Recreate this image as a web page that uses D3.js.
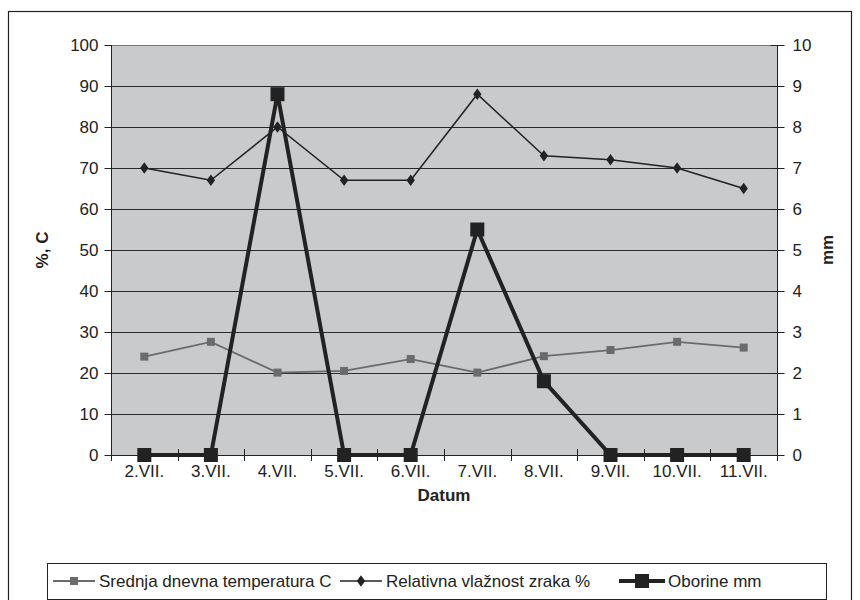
<!DOCTYPE html>
<html>
<head>
<meta charset="utf-8">
<script src="https://cdn.jsdelivr.net/npm/d3@7"></script>
<style>
  body { margin: 0; background: #fff; }
  svg text { font-family: "Liberation Sans", Arial, sans-serif; fill: #222; }
</style>
</head>
<body>
<svg id="chart" width="860" height="600"></svg>
<script>
const categories = ["2.VII.", "3.VII.", "4.VII.", "5.VII.", "6.VII.", "7.VII.", "8.VII.", "9.VII.", "10.VII.", "11.VII."];
const temperature = [24, 27.6, 20.1, 20.5, 23.4, 20.1, 24.1, 25.6, 27.6, 26.2];
const humidity = [70, 67, 80, 67, 67, 88, 73, 72, 70, 65];
const precipitation = [0, 0, 8.8, 0, 0, 5.5, 1.8, 0, 0, 0];
const leftTicks = [0, 10, 20, 30, 40, 50, 60, 70, 80, 90, 100];
const rightTicks = [0, 1, 2, 3, 4, 5, 6, 7, 8, 9, 10];
const seriesNames = ["Srednja dnevna temperatura C", "Relativna vlažnost zraka %", "Oborine mm"];

const svg = d3.select("#chart");
const plot = { left: 111, right: 777, top: 45, bottom: 455 };

// outer border
svg.append("rect").attr("x", 8.5).attr("y", 11.5).attr("width", 843).attr("height", 600)
  .attr("fill", "#fff").attr("stroke", "#222").attr("stroke-width", 1.2);

const x = d3.scaleBand().domain(categories).range([plot.left, plot.right]);
const yL = d3.scaleLinear().domain([0, 100]).range([plot.bottom, plot.top]);
const yR = d3.scaleLinear().domain([0, 10]).range([plot.bottom, plot.top]);
const cx = d => x(d) + x.bandwidth() / 2;

// plot background
svg.append("rect").attr("x", plot.left).attr("y", plot.top)
  .attr("width", plot.right - plot.left).attr("height", plot.bottom - plot.top)
  .attr("fill", "#c9cacc");

// gridlines
svg.append("g").selectAll("line").data(leftTicks.filter(t => t > 0)).join("line")
  .attr("x1", plot.left).attr("x2", plot.right)
  .attr("y1", d => yL(d) + 0.5).attr("y2", d => yL(d) + 0.5)
  .attr("stroke", d => d === 100 ? "#777" : "#2a2a2a").attr("stroke-width", 1);

// left axis
const axL = svg.append("g").attr("transform", `translate(${plot.left + 0.5},0)`)
  .call(d3.axisLeft(yL).tickValues(leftTicks).tickSize(7).tickPadding(6));
axL.select(".domain").attr("stroke", "#222").attr("d", `M0,${plot.top}V${plot.bottom}`);
axL.selectAll(".tick line").attr("stroke", "#222");
axL.selectAll("text").style("font-size", "17px").attr("fill", "#222");

// right axis
const axR = svg.append("g").attr("transform", `translate(${plot.right + 0.5},0)`)
  .call(d3.axisRight(yR).tickValues(rightTicks).tickSize(7).tickPadding(8));
axR.select(".domain").attr("stroke", "#222").attr("d", `M0,${plot.top}V${plot.bottom}`);
axR.selectAll(".tick line").attr("stroke", "#222").attr("x1", -7);
axR.selectAll("text").style("font-size", "17px").attr("fill", "#222");

// bottom axis
const axB = svg.append("g").attr("transform", `translate(0,${plot.bottom + 0.5})`)
  .call(d3.axisBottom(x).tickSize(0).tickPadding(9));
axB.select(".domain").attr("stroke", "#222").attr("d", `M${plot.left},0H${plot.right}`);
axB.selectAll("text").style("font-size", "17px").attr("fill", "#222");
// category boundary ticks
svg.append("g").selectAll("line").data(categories.concat(["__end"])).join("line")
  .attr("x1", (d, i) => Math.round(plot.left + i * x.step()) + 0.5)
  .attr("x2", (d, i) => Math.round(plot.left + i * x.step()) + 0.5)
  .attr("y1", plot.bottom - 6).attr("y2", plot.bottom + 6)
  .attr("stroke", "#222");

// axis titles
svg.append("text").attr("transform", `translate(48,250) rotate(-90)`)
  .attr("text-anchor", "middle").style("font-size", "17px").style("font-weight", "bold").text("%, C");
svg.append("text").attr("transform", `translate(833,250) rotate(-90)`)
  .attr("text-anchor", "middle").style("font-size", "17px").style("font-weight", "bold").text("mm");
svg.append("text").attr("x", (plot.left + plot.right) / 2).attr("y", 501)
  .attr("text-anchor", "middle").style("font-size", "17px").style("font-weight", "bold").text("Datum");

// series
const tempLine = d3.line().x((d, i) => cx(categories[i])).y(d => yL(d));
const precLine = d3.line().x((d, i) => cx(categories[i])).y(d => yR(d));

svg.append("path").datum(temperature).attr("d", tempLine)
  .attr("fill", "none").attr("stroke", "#6b6b6b").attr("stroke-width", 1.8);
svg.append("g").selectAll("rect").data(temperature).join("rect")
  .attr("x", (d, i) => cx(categories[i]) - 4).attr("y", d => yL(d) - 4)
  .attr("width", 8).attr("height", 8).attr("fill", "#6b6b6b");

svg.append("path").datum(humidity).attr("d", tempLine)
  .attr("fill", "none").attr("stroke", "#222").attr("stroke-width", 1.5);
const diamond = d3.symbol().type(d3.symbolDiamond2).size(70);
svg.append("g").selectAll("path").data(humidity).join("path")
  .attr("d", diamond)
  .attr("transform", (d, i) => `translate(${cx(categories[i])},${yL(d)}) scale(0.8,1.1)`)
  .attr("fill", "#222");

svg.append("path").datum(precipitation).attr("d", precLine)
  .attr("fill", "none").attr("stroke", "#222").attr("stroke-width", 4);
svg.append("g").selectAll("rect").data(precipitation).join("rect")
  .attr("x", (d, i) => cx(categories[i]) - 7).attr("y", d => yR(d) - 7)
  .attr("width", 14).attr("height", 14).attr("fill", "#222");

// legend
const lg = svg.append("g");
lg.append("rect").attr("x", 47.5).attr("y", 563.5).attr("width", 779).attr("height", 36)
  .attr("fill", "#fff").attr("stroke", "#222").attr("stroke-width", 1);
const ly = 581;
const legendItems = [
  { x: 53, name: seriesNames[0], kind: "temp" },
  { x: 340, name: seriesNames[1], kind: "hum" },
  { x: 619, name: seriesNames[2], kind: "prec" }
];
legendItems.forEach(it => {
  if (it.kind === "temp") {
    lg.append("line").attr("x1", it.x).attr("x2", it.x + 42).attr("y1", ly).attr("y2", ly)
      .attr("stroke", "#6b6b6b").attr("stroke-width", 1.8);
    lg.append("rect").attr("x", it.x + 17).attr("y", ly - 4).attr("width", 8).attr("height", 8).attr("fill", "#6b6b6b");
  } else if (it.kind === "hum") {
    lg.append("line").attr("x1", it.x).attr("x2", it.x + 42).attr("y1", ly).attr("y2", ly)
      .attr("stroke", "#222").attr("stroke-width", 1.5);
    lg.append("path").attr("d", diamond).attr("transform", `translate(${it.x + 21},${ly}) scale(0.8,1.1)`).attr("fill", "#222");
  } else {
    lg.append("line").attr("x1", it.x).attr("x2", it.x + 46).attr("y1", ly).attr("y2", ly)
      .attr("stroke", "#222").attr("stroke-width", 4);
    lg.append("rect").attr("x", it.x + 16).attr("y", ly - 7).attr("width", 14).attr("height", 14).attr("fill", "#222");
  }
  lg.append("text").attr("x", it.x + (it.kind === "prec" ? 49 : 46)).attr("y", ly + 6)
    .style("font-size", "17px").text(it.name);
});
</script>
</body>
</html>
